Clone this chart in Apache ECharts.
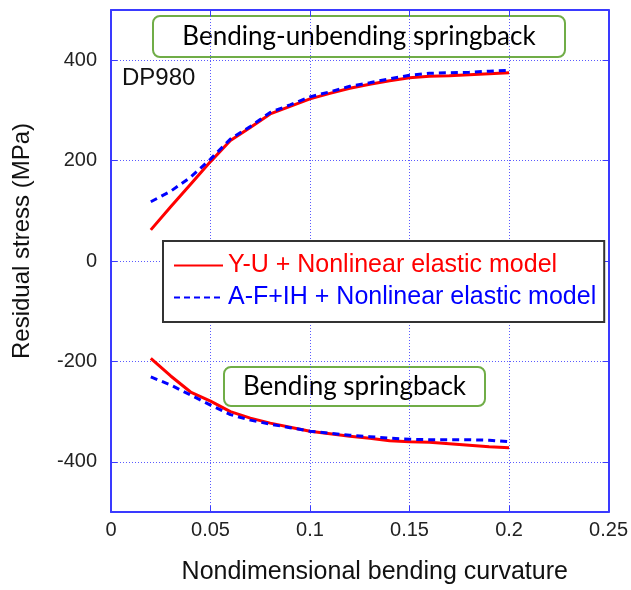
<!DOCTYPE html>
<html><head><meta charset="utf-8">
<script src="https://cdn.jsdelivr.net/npm/echarts@6/dist/echarts.min.js"></script>
<style>html,body{margin:0;padding:0;background:#fff}#c{width:631px;height:590px}</style>
</head><body><div id="c"></div>
<script>
// ---- data ----
const curvature = [0.02,0.03,0.04,0.05,0.06,0.07,0.08,0.09,0.10,0.11,0.12,0.13,0.14,0.15,0.16,0.17,0.18,0.19,0.20];
const yuUnbending  = [62,108,153,198,240,266,293,308,323,334,344,352,359,365,368,369,371,373,375];
const afUnbending  = [118,139,167,203,243,268,296,311,327,337,348,355,363,370,374,375,376,378,380];
const yuBending    = [-194,-229,-261,-279,-300,-313,-323,-331,-339,-344,-349,-353,-358,-360,-361,-364,-367,-370,-372];
const afBending    = [-231,-247,-267,-287,-306,-317,-325,-332,-339,-343,-347,-350,-353,-355,-356,-356,-356,-357,-360];
const yTickValues  = [-400,-200,0,200,400];
const seriesNames  = ['Y-U + Nonlinear elastic model','A-F+IH + Nonlinear elastic model'];
const xTitle = 'Nondimensional bending curvature';
const yTitle = 'Residual stress (MPa)';
const materialLabel = 'DP980';
const noteUnbending = 'Bending-unbending springback';
const noteBending = 'Bending springback';

// ---- chart ----
const FONT = '"Liberation Sans", Arial, sans-serif';
const AXIS_BLUE = '#3a3aff';
const GRID_BLUE = '#5a5aff';
const RED = '#ff0000';
const BLUE = '#0000ff';

function pairs(ys){ return curvature.map((x,i)=>[x, ys[i]]); }

const chart = echarts.init(document.getElementById('c'), null, {renderer:'canvas'});

const redLine = {width:3, color:RED, type:'solid'};
const blueLine = {width:3, color:BLUE, type:[7,5]};

function lineSeries(name, ys, ls, z){
  return {type:'line', name:name, data:pairs(ys), symbol:'none', showSymbol:false,
    lineStyle:ls, itemStyle:{color:ls.color}, z:z, animation:false, emphasis:{disabled:true}};
}

const option = {
  animation:false,
  backgroundColor:'#fff',
  grid:{left:111, right:19, top:10, bottom:74, containLabel:false},
  xAxis:[
    {type:'value', min:0, max:0.25, interval:0.05, position:'bottom',
     axisLine:{show:true, onZero:false, lineStyle:{color:AXIS_BLUE, width:2}},
     axisTick:{show:true, inside:true, length:6, lineStyle:{color:AXIS_BLUE, width:1}},
     axisLabel:{color:'#222', fontSize:20, fontFamily:FONT, margin:8},
     splitLine:{show:true, lineStyle:{color:GRID_BLUE, width:1, type:[1,2]}},
     name:xTitle, nameLocation:'middle', nameGap:48,
     nameTextStyle:{color:'#111', fontSize:25, fontFamily:FONT, padding:[0,0,0,30]}},
    {type:'value', min:0, max:0.25, interval:0.05, position:'top',
     axisLine:{show:true, onZero:false, lineStyle:{color:AXIS_BLUE, width:2}},
     axisTick:{show:true, inside:true, length:6, lineStyle:{color:AXIS_BLUE, width:1}},
     axisLabel:{show:false}, splitLine:{show:false}}
  ],
  yAxis:[
    {type:'value', min:-500, max:500, position:'left',
     axisLine:{show:true, onZero:false, lineStyle:{color:AXIS_BLUE, width:2}},
     axisTick:{show:true, inside:true, length:6, customValues:yTickValues, lineStyle:{color:AXIS_BLUE, width:1}},
     axisLabel:{color:'#222', fontSize:20, fontFamily:FONT, margin:14, customValues:yTickValues},
     splitLine:{show:true, lineStyle:{color:GRID_BLUE, width:1, type:[1,2]}},
     name:yTitle, nameLocation:'middle', nameGap:77, nameRotate:90,
     nameTextStyle:{color:'#111', fontSize:24, fontFamily:FONT, padding:[0,0,0,40]}},
    {type:'value', min:-500, max:500, position:'right',
     axisLine:{show:true, onZero:false, lineStyle:{color:AXIS_BLUE, width:2}},
     axisTick:{show:true, inside:true, length:6, customValues:yTickValues, lineStyle:{color:AXIS_BLUE, width:1}},
     axisLabel:{show:false, customValues:yTickValues}, splitLine:{show:false}}
  ],
  legend:{
    orient:'vertical', left:163, top:241,
    padding:[12,8,12,10], itemGap:7, itemWidth:49, itemHeight:24,
    backgroundColor:'#fff', borderColor:'#333', borderWidth:2, borderRadius:0,
    textStyle:{fontSize:25, fontFamily:FONT},
    itemStyle:{opacity:0},
    selectedMode:false,
    data:[
      {name:seriesNames[0], textStyle:{color:RED}, itemStyle:{opacity:0}},
      {name:seriesNames[1], textStyle:{color:BLUE}, itemStyle:{opacity:0}, lineStyle:{width:2, type:[6,4], color:BLUE}}
    ]
  },
  graphic:[
    {type:'group', left:152, top:15, z:10, children:[
      {type:'rect', shape:{x:0,y:0,width:412,height:41,r:7},
       style:{fill:'#fff', stroke:'#70ad47', lineWidth:2}},
      {type:'text', x:206, y:21, style:{text:noteUnbending, fill:'#000',
       font:'26px Lato, "Open Sans", sans-serif', textAlign:'center', textVerticalAlign:'middle'}}
    ]},
    {type:'group', left:223, top:366, z:10, children:[
      {type:'rect', shape:{x:0,y:0,width:261,height:39,r:7},
       style:{fill:'#fff', stroke:'#70ad47', lineWidth:2}},
      {type:'text', x:130.5, y:20, style:{text:noteBending, fill:'#000',
       font:'26px Lato, "Open Sans", sans-serif', textAlign:'center', textVerticalAlign:'middle'}}
    ]},
    {type:'text', x:122, y:78, z:10, style:{text:materialLabel, fill:'#111',
      font:'24px "Liberation Sans", Arial, sans-serif', textVerticalAlign:'middle'}}
  ],
  series:[
    lineSeries(seriesNames[1], afUnbending, blueLine, 3),
    lineSeries(seriesNames[0], yuUnbending, redLine, 2),
    lineSeries(seriesNames[1], afBending, blueLine, 3),
    lineSeries(seriesNames[0], yuBending, redLine, 2)
  ]
};
chart.setOption(option);
</script>
</body></html>
